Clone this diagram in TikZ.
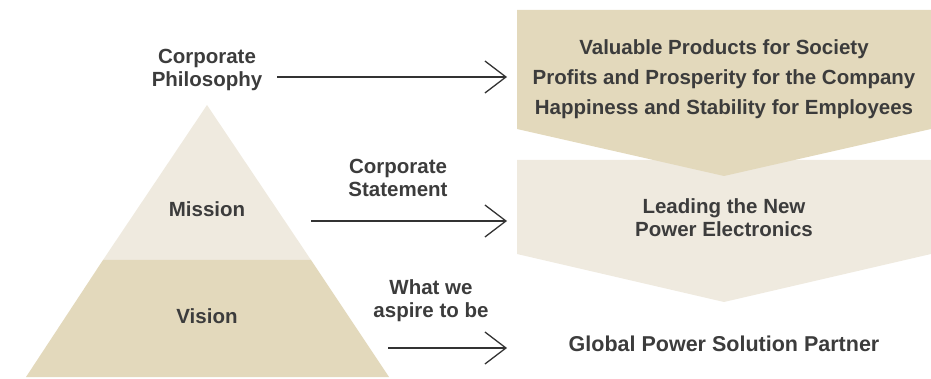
\documentclass[tikz,border=0pt]{standalone}
\usepackage{fontspec}
\setmainfont{Liberation Sans}
\usetikzlibrary{arrows.meta}
\definecolor{darkbeige}{HTML}{E3D9BC}
\definecolor{lightbeige}{HTML}{EFEADF}
\definecolor{txt}{HTML}{3C3C3C}
\definecolor{arr}{HTML}{333333}
\tikzset{
  lbl/.style={text=txt, font=\bfseries\fontsize{20.5}{23}\selectfont, align=center, inner sep=0pt},
  boxtxt/.style={text=txt, font=\bfseries\fontsize{20.5}{30}\selectfont, align=center, inner sep=0pt},
  conn/.style={draw=arr, line width=1.3pt, -{Straight Barb[length=21pt,width=32pt,line width=1.3pt]}}
}
\begin{document}
\begin{tikzpicture}[x=1pt,y=-1pt]
\useasboundingbox (0,0) rectangle (931,379);
% pyramid
\fill[lightbeige] (207,105) -- (311,260) -- (103,260) -- cycle;
\fill[darkbeige] (103,260) -- (311,260) -- (389,377) -- (26,377) -- cycle;
% right chevrons
\fill[lightbeige] (517,160) -- (931,160) -- (931,254) -- (724,302) -- (517,254) -- cycle;
\fill[darkbeige] (517,10) -- (931,10) -- (931,129) -- (724,176) -- (517,129) -- cycle;
% texts
\node[lbl] (phil) at (207,70) {Corporate\\Philosophy};
\node[lbl] (mission) at (207,209) {Mission};
\node[lbl] (vision) at (207,316) {Vision};
\node[lbl] (stmt) at (398,178) {Corporate\\Statement};
\node[lbl] (aspire) at (431,301) {What we\\aspire to be};
\node[boxtxt] (values) at (724,79) {Valuable Products for Society\\Profits and Prosperity for the Company\\Happiness and Stability for Employees};
\node[lbl] (leading) at (724,218) {Leading the New\\Power Electronics};
\node[lbl, font=\bfseries\fontsize{21.5}{23}\selectfont] (global) at (724,344) {Global Power Solution Partner};
% arrow endpoints
\coordinate (a1s) at (277,77);
\coordinate (a1e) at (507,77);
\coordinate (a2s) at (311,221);
\coordinate (a2e) at (507,221);
\coordinate (a3s) at (388,348);
\coordinate (a3e) at (507,348);
\draw[conn] (a1s) -- (a1e);
\draw[conn] (a2s) -- (a2e);
\draw[conn] (a3s) -- (a3e);
\end{tikzpicture}
\end{document}
